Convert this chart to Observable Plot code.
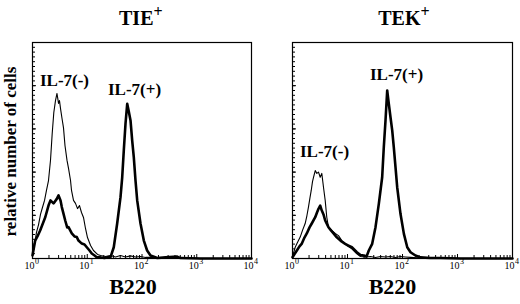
<!DOCTYPE html>
<html><head><meta charset="utf-8">
<script src="https://cdn.jsdelivr.net/npm/d3@7"></script>
<script src="https://cdn.jsdelivr.net/npm/@observablehq/plot@0.6"></script>
<style>
body{margin:0;background:#fff}
#row{display:flex;width:520px;height:304px}
g[aria-label="ylabel"] text{letter-spacing:0.4px;word-spacing:3px}
g[aria-label="peaklabel"] text{letter-spacing:0.5px}
</style></head><body><div id="row"></div>
<script>
// ---- data ----
const panelTitles = ["TIE", "TEK"];
const axisTitle = "B220";
const yAxisTitle = "relative number of cells";
const seriesLabels = ["IL-7(-)", "IL-7(+)"];
const xTickValues = [1, 10, 100, 1000, 10000];
const xTickBase = ["10", "10", "10", "10", "10"];
const xTickExponents = ["0", "1", "2", "3", "4"];

// TIE+ panel, IL-7(-) (thin)
const tieNegX = [1.00,1.09,1.18,1.29,1.40,1.52,1.66,1.80,1.96,2.13,2.29,2.45,2.63,2.80,2.99,3.11,3.25,3.46,3.68,3.92,4.27,4.55,4.95,5.16,5.61,6.10,6.64,7.22,7.85,8.54,9.29,10.1,11.5,13.0,15.4,17.5,21.5,26.6,32.8,40.5,50.0,61.7,76.1,93.9,116,143,218,409,1171,10000];
const tieNegY = [2.3,6.5,12.0,15.7,20.4,23.6,26.9,31.5,36.1,45.4,57.9,67.6,73.1,76.4,71.8,73.1,69.4,64.8,60.6,52.3,45.4,41.7,36.1,31.5,26.9,25.5,23.1,24.5,21.3,19.0,13.9,9.7,6.0,3.7,1.9,1.4,0.9,1.4,0.7,1.4,0.7,1.2,0.7,0.9,0.5,0.5,0.2,0.2,0,0];
// TIE+ panel, IL-7(+) (thick)
const tiePosX = [1.00,1.12,1.23,1.38,1.52,1.71,1.96,2.13,2.42,2.78,2.99,3.25,3.43,3.68,3.96,4.30,4.55,5.22,5.85,6.44,6.92,7.95,8.91,9.81,11.0,12.1,13.6,14.9,17.5,20.7,24.4,26.6,30.5,35.2,40.5,43.5,46.5,50.0,53.7,57.4,61.7,66.2,70.8,76.1,81.7,93.9,108,124,143,190,269,440,505,1171,10000];
const tiePosY = [1.4,8.3,10.2,13.0,15.7,19.1,24.5,26.9,25.5,27.6,29.2,26.9,23.8,20.8,17.6,14.4,14.5,11.6,10.2,9.9,8.3,6.9,6.5,5.2,3.7,2.3,1.4,0.6,0.5,0.2,0.7,0.6,5.2,16.2,28.4,37.6,50.0,62.5,71.6,68.1,63.9,54.6,46.9,36.1,26.9,16.2,8.3,3.7,1.4,0.2,0.5,0.9,0.2,0,0];

// TEK+ panel, IL-7(-) (thin)
const tekNegX = [1.00,1.12,1.23,1.38,1.52,1.70,1.83,1.95,2.08,2.19,2.31,2.41,2.59,2.77,2.97,3.19,3.41,3.66,3.93,4.20,4.51,5.18,5.98,6.86,7.88,9.71,12.0,14.8,17.2,21.2,26.2,32.3,39.8,49.1,60.5,74.6,91.9,113,140,212,491,10000];
const tekNegY = [0.9,5.2,7.4,9.9,13.0,16.2,19.9,23.8,28.2,31.5,35.6,37.6,40.7,39.4,40.0,37.6,39.4,33.0,26.9,19.1,14.5,13.0,11.6,10.6,8.3,6.0,4.5,2.2,0.9,0.7,0.9,0.5,0.9,0.7,0.9,0.5,0.9,0.7,0.5,0.2,0,0];
// TEK+ panel, IL-7(+) (thick)
const tekPosX = [1.00,1.20,1.34,1.48,1.65,1.82,2.04,2.24,2.59,2.79,2.97,3.19,3.41,3.66,3.93,4.51,5.01,5.57,6.18,6.86,7.78,9.08,10.4,12.0,14.8,17.2,19.8,22.2,24.4,28.1,32.3,37.1,42.7,45.7,49.1,52.7,56.4,60.5,65.0,69.5,74.6,80.1,91.9,106,122,140,172,212,323,491,1134,10000];
const tekPosY = [0.6,3.7,5.6,6.9,9.7,11.6,14.4,16.2,19.1,21.3,23.0,24.5,22.2,20.4,17.6,14.5,13.0,11.6,10.2,9.1,7.9,6.8,6.0,5.2,2.9,1.6,1.4,0.9,3.7,6.8,14.5,25.3,37.6,51.5,63.9,77.8,71.6,65.4,59.3,51.5,42.3,33.0,20.7,11.4,5.2,2.9,1.4,0.5,0.2,0.2,0,0];

// ---- drawing ----
const FONT = "Liberation Serif, Times New Roman, serif";
const H = 304, MT = 42, MB = 46;
const yMinor = d3.range(0, 46).map(i => i * 100 / 45);
const yMajor = yMinor.filter((d, i) => i % 9 === 0);
const xMinor = [];
for (const p of [1, 10, 100, 1000]) for (let m = 2; m <= 9; m++) xMinor.push(m * p);

function toRows(xs, ys) { return xs.map((x, i) => ({x, y: ys[i]})); }

function panel(cfg) {
  const W = 260, ML = 32, MR = cfg.mr;
  const fw = W - ML - MR, fh = H - MT - MB;
  const neg = toRows(cfg.negX, cfg.negY);
  const pos = toRows(cfg.posX, cfg.posY);
  const negPeak = d3.greatest(neg, d => d.y);
  const posPeak = d3.greatest(pos, d => d.y);
  const marks = [
    Plot.tickY(yMinor, {y: d => d, insetRight: fw - 3, stroke: "black", strokeWidth: 1}),
    Plot.tickY(yMajor, {y: d => d, insetRight: fw - 4, stroke: "black", strokeWidth: 1}),
    Plot.tickX(xMinor, {x: d => d, insetTop: fh - 3, stroke: "black", strokeWidth: 1}),
    Plot.tickX(xTickValues, {x: d => d, insetTop: fh - 4, stroke: "black", strokeWidth: 1}),
    Plot.line(neg, {x: "x", y: "y", stroke: "black", strokeWidth: 1.1}),
    Plot.line(pos, {x: "x", y: "y", stroke: "black", strokeWidth: 2.6}),
    Plot.frame({stroke: "black", strokeWidth: 1.2}),
    Plot.text(xTickValues, {x: d => d, text: (d, i) => xTickBase[i], frameAnchor: "bottom", lineAnchor: "bottom", textAnchor: "end", dx: 2, dy: 10.5, fontSize: 10, fontFamily: FONT, fill: "black"}),
    Plot.text(xTickValues, {x: d => d, text: (d, i) => xTickExponents[i], frameAnchor: "bottom", lineAnchor: "bottom", textAnchor: "start", dx: 2.5, dy: 5.5, fontSize: 8, fontFamily: FONT, fill: "black"}),
    Plot.text([cfg.title], {text: d => d, frameAnchor: "top", textAnchor: "end", lineAnchor: "bottom", dx: cfg.titleDx, dy: -18, fontSize: 20, fontWeight: "bold", fontFamily: FONT, fill: "black"}),
    Plot.text(["+"], {text: d => d, frameAnchor: "top", textAnchor: "start", lineAnchor: "bottom", dx: cfg.titleDx, dy: -26, fontSize: 16, fontWeight: "bold", fontFamily: FONT, fill: "black"}),
    Plot.text([axisTitle], {text: d => d, frameAnchor: "bottom", textAnchor: "middle", lineAnchor: "bottom", dx: cfg.b220Dx, dy: 35, fontSize: 22, fontWeight: "bold", fontFamily: FONT, fill: "black"}),
    Plot.text([negPeak], {x: "x", y: "y", text: () => seriesLabels[0], textAnchor: "middle", lineAnchor: "bottom", dx: cfg.negDx, dy: cfg.negDy, fontSize: 17, fontWeight: "bold", fontFamily: FONT, fill: "black", ariaLabel: "peaklabel"}),
    Plot.text([posPeak], {x: "x", y: "y", text: () => seriesLabels[1], textAnchor: "middle", lineAnchor: "bottom", dx: cfg.posDx, dy: cfg.posDy, fontSize: 17, fontWeight: "bold", fontFamily: FONT, fill: "black", ariaLabel: "peaklabel"})
  ];
  if (cfg.ylabel) marks.push(
    Plot.text([yAxisTitle], {text: d => d, frameAnchor: "left", rotate: -90, textAnchor: "middle", lineAnchor: "bottom", dx: -17, dy: 1, fontSize: 17, fontWeight: "bold", fontFamily: FONT, fill: "black", ariaLabel: "ylabel"})
  );
  return Plot.plot({
    width: W, height: H,
    marginLeft: ML, marginRight: MR, marginTop: MT, marginBottom: MB,
    style: {fontFamily: FONT, background: "white", color: "black", overflow: "visible"},
    x: {type: "log", domain: [1, 10000], axis: null},
    y: {domain: [0, 100], axis: null},
    marks
  });
}

const row = document.getElementById("row");
row.append(panel({title: panelTitles[0], mr: 9, titleDx: 11.5, b220Dx: -9, negX: tieNegX, negY: tieNegY, posX: tiePosX, posY: tiePosY, negDx: 7.5, negDy: -7, posDx: 7.3, posDy: -9, ylabel: true}));
row.append(panel({title: panelTitles[1], mr: 8, titleDx: 18, b220Dx: -10, negX: tekNegX, negY: tekNegY, posX: tekPosX, posY: tekPosY, negDx: 9.3, negDy: -13.3, posDx: 9.3, posDy: -10, ylabel: false}));
</script></body></html>
